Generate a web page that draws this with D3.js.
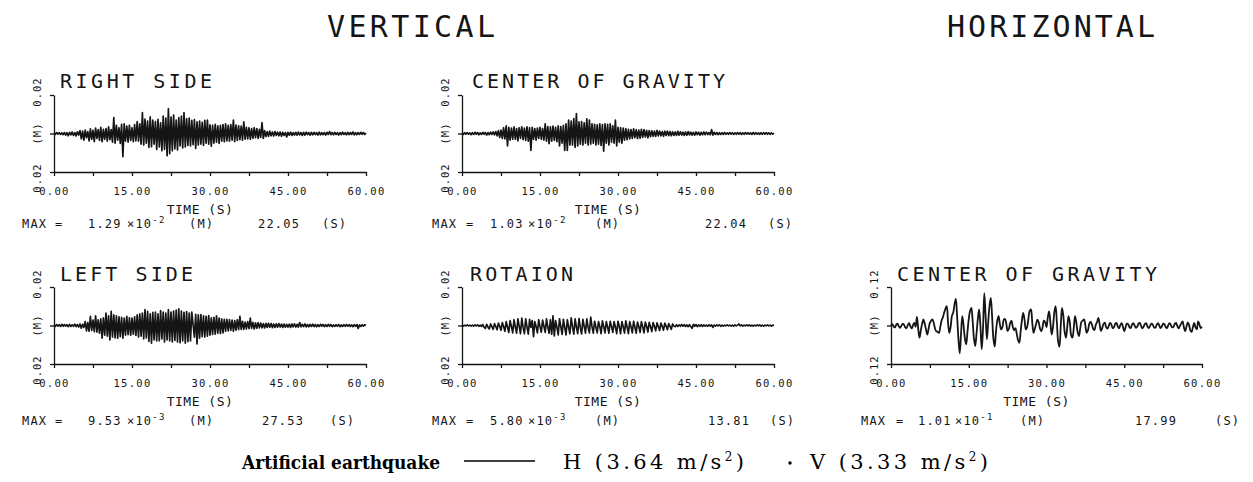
<!DOCTYPE html>
<html>
<head>
<meta charset="utf-8">
<script src="https://cdn.jsdelivr.net/npm/d3@7"></script>
<style>
  body { margin: 0; background: #fff; }
  svg { display: block; }
</style>
</head>
<body>
<svg id="chart" width="1253" height="482"></svg>
<script>
// Displacement time histories, sampled every 0.25 s from 0 to 60 s (values in mm).
const SAMPLE_DT = 0.25;

const rightSide = [
  0.3,-0.4,0.5,-0.3, 0.4,-0.5,0.3,-0.6, 0.5,-0.8,0.4,-1.2, 0.6,-0.7,0.8,-1.0, 0.5,-1.3,0.9,-0.8,
  1.5,-2.8,1.2,-3.5, 1.8,-2.2,1.0,-3.8, 2.4,-3.0,1.6,-4.2, 2.8,-2.5,2.0,-3.6, 3.2,-4.3,2.2,-3.0,
  2.6,-4.0,3.5,-3.2, 2.0,-4.5,8.3,-5.0, 4.2,-3.5,3.0,-5.2, 4.8,-12.0,5.0,-4.0, 3.8,-4.5,4.3,-3.6,
  3.0,-4.2,4.6,-3.8, 6.2,-4.0,5.0,-5.5, 10.8,-6.0,7.5,-5.0, 6.5,-7.2,8.6,-6.8, 7.0,-5.5,6.2,-8.3,
  7.4,-7.0,5.5,-9.0, 9.0,-8.2,8.0,-11.6, 12.9,-10.5,8.5,-9.0, 9.6,-8.0,7.0,-8.5, 8.2,-6.5,9.0,-7.5,
  10.8,-7.0,7.8,-6.2, 8.0,-6.5,6.8,-5.8, 7.2,-7.8,6.0,-6.0, 6.5,-5.5,5.8,-6.2, 6.8,-5.0,7.0,-5.5,
  4.5,-6.6,4.2,-5.0, 4.8,-4.5,4.0,-5.2, 4.2,-4.0,4.6,-4.3, 5.0,-3.8,4.2,-4.0, 4.6,-3.5,7.0,-4.2,
  4.4,-3.6,4.0,-3.2, 3.8,-3.5,6.0,-3.0, 3.2,-2.8,3.0,-3.0, 2.6,-2.5,3.0,-2.2, 2.5,-2.6,2.2,-2.0,
  5.6,-2.5,1.5,-1.6, 1.0,-1.5,1.2,-1.2, 0.8,-1.3,1.0,-1.0, 0.7,-1.2,0.8,-1.4, 0.6,-1.0,0.5,-1.8,
  0.6,-0.9,0.7,-1.0, 0.5,-0.8,0.6,-0.9, 0.7,-0.7,0.5,-1.0, 0.6,-0.8,0.7,-0.6, 0.5,-0.9,0.6,-0.7,
  0.6,-0.6,0.5,-0.8, 0.7,-0.7,0.4,-0.6, 0.5,-0.8,0.6,-0.5, 1.0,-0.6,0.5,-0.7, 0.6,-0.5,0.4,-0.8,
  0.5,-0.6,0.7,-0.5, 0.4,-0.7,0.6,-0.6, 0.5,-0.5,0.8,-0.7, 0.4,-0.6,0.5,-0.5, 0.6,-0.4,0.5,-0.5,
  0.2
];

const centerVertical = [
  0.3,-0.5,0.4,-0.3, 0.5,-0.4,0.3,-0.6, 0.4,-0.5,0.6,-0.4, 0.5,-0.7,0.3,-0.5, 0.6,-0.4,0.5,-0.8,
  0.4,-0.6,0.7,-0.5, 0.8,-0.7,1.0,-1.2, 1.5,-2.0,1.8,-2.5, 3.0,-2.8,4.0,-6.5, 3.2,-3.5,2.8,-3.0,
  3.5,-3.0,2.6,-3.8, 3.0,-2.5,3.4,-3.2, 2.8,-3.6,3.5,-4.0, 3.0,-8.8,3.2,-3.0, 2.5,-3.4,2.8,-2.6,
  3.2,-3.0,2.5,-3.5, 5.0,-4.0,3.6,-5.3, 3.5,-4.0,3.8,-3.6, 3.2,-4.2,4.0,-6.5, 3.6,-5.0,4.2,-8.8,
  5.0,-8.8,7.0,-6.0, 6.5,-6.0,7.8,-7.2, 10.3,-6.5,6.0,-5.5, 6.2,-6.0,5.5,-5.0, 7.6,-6.0,7.0,-5.5,
  5.0,-5.0,4.8,-6.0, 4.5,-5.5,5.0,-6.2, 4.6,-9.2,5.0,-5.0, 4.8,-6.0,5.0,-4.5, 4.0,-5.0,7.0,-6.5,
  3.2,-4.5,3.0,-5.0, 2.8,-3.5,2.6,-3.2, 2.2,-2.8,2.0,-2.5, 2.4,-2.2,2.0,-2.6, 1.8,-2.4,2.2,-2.0,
  2.0,-1.8,1.6,-2.2, 1.5,-1.6,1.4,-1.5, 1.2,-1.5,1.6,-1.2, 1.3,-1.2,1.0,-1.4, 1.2,-1.0,1.3,-1.1,
  1.0,-1.2,0.9,-1.0, 0.8,-1.0,1.1,-0.9, 0.9,-0.8,0.7,-1.0, 0.8,-0.9,1.0,-0.7, 0.7,-0.8,0.6,-0.9,
  0.8,-0.6,0.7,-0.8, 0.6,-0.7,0.8,-0.6, 0.7,-0.6,0.5,-0.7, 2.0,-0.8,0.6,-0.5, 0.5,-0.6,0.4,-0.5,
  0.4,-0.5,0.5,-0.4, 0.3,-0.4,0.5,-0.3, 0.4,-0.5,0.3,-0.4, 0.5,-0.3,0.4,-0.5, 0.3,-0.4,0.5,-0.3,
  0.4,-0.3,0.3,-0.5, 0.5,-0.4,0.4,-0.3, 0.3,-0.5,0.4,-0.4, 0.4,-0.3,0.5,-0.4, 0.3,-0.4,0.3,-0.3,
  0.2
];

const leftSide = [
  0.3,-0.4,0.5,-0.3, 0.4,-0.5,0.6,-0.4, 0.5,-0.3,0.4,-0.6, 0.6,-0.5,0.3,-0.4, 0.7,-0.6,0.5,-0.8,
  0.8,-1.4,0.6,-1.0, 2.0,-2.8,1.5,-3.0, 4.7,-2.5,2.8,-3.2, 5.0,-3.5,3.0,-4.0, 3.5,-6.6,4.0,-5.0,
  6.4,-5.5,5.0,-7.5, 7.3,-6.0,5.5,-6.5, 5.0,-6.6,4.5,-5.8, 4.2,-6.6,3.8,-5.0, 4.7,-4.8,4.0,-5.0,
  3.8,-4.5,4.5,-5.2, 5.5,-6.0,6.0,-5.5, 6.5,-7.0,8.2,-6.5, 7.3,-8.3,6.0,-9.2, 6.8,-7.5,7.0,-8.0,
  6.0,-8.0,7.8,-7.0, 7.0,-8.6,6.5,-7.5, 8.2,-8.0,7.0,-8.5, 7.5,-7.8,8.0,-8.6, 8.7,-9.0,7.5,-8.0,
  6.8,-9.2,7.2,-8.4, 6.5,-8.0,7.0,0.5, -6.0,5.8,-9.53,5.5, -6.6,5.6,-5.8,5.0, -6.0,4.8,-5.5,5.2,
  -5.0,4.0,-4.6,4.2, -4.5,5.0,-4.0,3.8, -4.2,3.5,-3.8,3.2, -3.0,3.2,-2.8,3.0, -2.6,2.8,-3.0,2.5,
  -2.4,3.0,-2.2,4.7, -2.0,2.2,-2.0,1.8, -1.8,2.0,-1.6,3.8, -1.5,1.6,-1.8,1.4, -1.4,1.5,-1.2,1.3,
  -1.2,1.0,-1.3,1.1, -1.0,1.2,-0.9,1.0, -1.1,0.8,-1.0,0.9, -0.9,1.0,-0.8,0.7, -1.0,0.8,-0.9,0.6,
  -0.8,0.7,-1.0,0.8, -0.7,0.9,-0.8,0.6, -0.8,1.5,-0.7,0.6, -0.6,0.8,-0.7,0.5, -0.7,0.6,-0.5,0.7,
  -0.6,0.5,-0.7,0.4, -0.5,0.6,-0.4,0.5, -0.6,0.4,-0.5,0.6, -0.4,0.5,-0.6,0.3, -0.5,0.4,-0.4,0.5,
  -0.6,0.3,-0.5,0.4, -0.4,0.5,-0.3,0.4, -0.5,0.3,-0.6,0.4, -0.4,0.5,-1.5,0.3, -0.5,0.4,-0.3,0.4,
  0.0
];

const rotation = [
  0.2,-0.3,0.1,-0.2, 0.3,-0.2,0.2,-0.3, 0.2,-0.3,0.3,-0.2, 0.3,-0.4,0.2,-0.5, 0.5,-1.0,-1.5,0.6,
  -0.8,-1.8,0.8,-0.6, -2.0,1.0,-0.5,-2.2, 1.2,-0.4,-2.5,1.5, -0.5,-3.0,2.0,-0.8, -3.6,2.5,-0.5,-3.8,
  3.0,-0.8,-4.0,3.5, -0.6,-4.3,3.8,-1.0, -4.2,3.5,-0.8,-4.5, 3.2,-1.0,2.5,-5.8, 2.0,-0.5,-3.8,3.0,
  -0.6,-3.5,2.8,-0.4, -3.6,3.5,-0.8,-4.0, 3.0,-4.5,5.0,-5.4, 2.5,-0.8,-4.9,3.5, -0.6,-4.6,3.2,-1.0,
  -4.9,3.0,-0.8,-4.3, 4.0,-0.6,-4.5,3.4, -0.8,-4.2,3.6,-1.0, -4.4,3.2,-0.5,-4.0, 3.5,-1.0,-3.8,4.3,
  -0.6,-4.0,2.2,-0.8, -3.8,2.0,-0.5,-4.2, 2.4,-0.6,-3.8,2.0, -0.8,-4.0,2.2,-0.6, -3.6,2.0,-0.8,-4.2,
  2.2,-0.5,-4.3,2.0, -0.6,-4.0,2.4,-0.8, -4.2,2.0,-0.6,-3.8, 2.2,-0.8,-4.0,1.8, -0.5,-3.6,2.0,-0.6,
  -3.8,1.8,-0.4,-3.4, 1.6,-0.6,-3.2,1.5, -0.4,-2.8,1.4,-0.5, -2.6,1.2,-0.4,-2.4, 1.2,-0.3,-2.2,1.0,
  -0.4,-2.0,0.8,-0.3, -0.6,0.4,-0.5,0.3, -0.4,0.5,-0.3,0.4, -0.5,0.3,-0.6,0.4, -0.5,-1.5,0.6,-0.4,
  0.5,-0.6,0.3,-0.4, 0.4,-0.5,0.3,-0.3, 0.2,-0.4,0.4,-0.3, 0.3,-1.0,0.2,-0.3, 0.3,-0.2,0.3,-0.4,
  0.2,-0.3,0.2,-0.2, 0.3,-0.2,0.2,-0.3, 0.2,-0.3,0.3,-0.2, 0.2,0.8,-0.2,0.3, -0.3,0.2,-0.2,0.3,
  -0.2,0.3,-0.3,0.2, -0.3,0.2,-0.2,0.3, -0.2,0.3,-0.3,0.2, -0.3,0.2,-0.2,0.3, -0.2,0.2,-0.3,0.2,
  0.0
];

const centerHorizontal = [
  0,4,-3,-6, 2,6,-2,-7, -1,5,3,-6, -8,2,7,-3, -9,1,8,-4,
  27,-10,-38,-15, 5,19,6,-12, -28,-10,8,15, 19,8,-10,-18, -20,-23,-5,15,
  25,40,52,60, 10,-23,-5,30, 40,65,83,30, -40,-87,-30,29, 0,-40,-59,-20,
  20,45,55,15, -40,-64,-25,20, 50,0,-74,-10, 101,30,-43,10, 60,86,30,-40,
  -66,-20,15,29, 5,-12,-5,18, 20,5,-17,-10, 8,14,-5,-15, -8,-25,-45,-54,
  -20,15,39,20, -12,-5,20,45, 50,10,-23,-10, 5,18,10,-10, -18,-5,15,10,
  -5,25,44,10, -28,-5,40,60, 10,-50,-66,0, 55,30,-20,-38, -5,29,10,-30,
  -38,-10,29,10, -20,-33,-10,12, 15,19,0,-23, -15,5,12,4, -10,-14,2,10,
  24,5,-17,-8, 5,9,-5,-10, -2,8,4,-8, -6,5,8,-3, -9,2,7,-4,
  -18,-6,6,4, -5,-8,3,7, 0,-7,-4,6, 8,-2,-9,-3, 5,7,-4,-8,
  -1,6,3,-6, -7,2,7,0, -8,-3,6,4, -5,-8,2,7, 1,-6,-4,5,
  8,-2,-9,-1, 6,13,-5,-18, -4,10,2,-15, -20,-5,8,-6, -12,13,4,-8,
  -4
];

// Panel texts and axis settings
const panelTitles = ["RIGHT SIDE", "CENTER OF GRAVITY", "LEFT SIDE", "ROTAION", "CENTER OF GRAVITY"];
const yLimits = [0.02, 0.02, 0.02, 0.02, 0.12];            // metres
const yLimitLabels = ["0.02", "0.02", "0.02", "0.02", "0.12"];
const timeTicks = [0, 7.5, 15, 22.5, 30, 37.5, 45, 52.5, 60];
const timeTickLabels = ["0.00", "", "15.00", "", "30.00", "", "45.00", "", "60.00"];
const maxMantissas = ["1.29", "1.03", "9.53", "5.80", "1.01"];
const maxExponents = ["-2", "-2", "-3", "-3", "-1"];
const maxTimes = ["22.05", "22.04", "27.53", "13.81", "17.99"];

// Layout of the five plotted panels
const layout = [
  { data: rightSide,        x0: 54,  x1: 366,  yTop: 95,  yBot: 172, titleX: 60,  titleY: 88,  maxY: 228, maxX: [22, 55, 88, 127, 189, 258, 322], smooth: false },
  { data: centerVertical,   x0: 462, x1: 774,  yTop: 95,  yBot: 172, titleX: 472, titleY: 88,  maxY: 228, maxX: [432, 466, 490, 528, 595, 705, 768], smooth: false },
  { data: leftSide,         x0: 54,  x1: 366,  yTop: 287, yBot: 364, titleX: 60,  titleY: 281, maxY: 425, maxX: [22, 55, 88, 127, 189, 262, 330], smooth: false },
  { data: rotation,         x0: 462, x1: 774,  yTop: 287, yBot: 364, titleX: 470, titleY: 281, maxY: 425, maxX: [432, 466, 490, 528, 595, 708, 770], smooth: false },
  { data: centerHorizontal, x0: 891, x1: 1202, yTop: 287, yBot: 364, titleX: 897, titleY: 281, maxY: 425, maxX: [861, 896, 918, 955, 1020, 1135, 1215], smooth: true }
];
const titleWidths = [152, 253, 133, 103, 260];

const PLOT_FONT = "'DejaVu Sans Mono', monospace";
const INK = "#151515";

const svg = d3.select("#chart");

// Section headings
svg.append("text").attr("x", 327).attr("y", 37)
  .attr("textLength", 168).attr("lengthAdjust", "spacing")
  .style("font-family", PLOT_FONT).style("font-size", "30px").attr("fill", INK)
  .text("VERTICAL");
svg.append("text").attr("x", 947).attr("y", 37)
  .attr("textLength", 208).attr("lengthAdjust", "spacing")
  .style("font-family", PLOT_FONT).style("font-size", "30px").attr("fill", INK)
  .text("HORIZONTAL");

layout.forEach((p, i) => {
  const g = svg.append("g");
  const lim = yLimits[i] * 1000;   // mm
  const x = d3.scaleLinear().domain([0, 60]).range([p.x0, p.x1]);
  const y = d3.scaleLinear().domain([-lim, lim]).range([p.yBot, p.yTop]);

  // trace
  const line = d3.line()
    .x((d, k) => x(k * SAMPLE_DT))
    .y(d => y(d))
    .curve(p.smooth ? d3.curveCatmullRom.alpha(0.5) : d3.curveLinear);
  g.append("path").datum(p.data)
    .attr("d", line)
    .attr("fill", "none")
    .attr("stroke", INK)
    .attr("stroke-width", p.smooth ? 1.8 : 1.7)
    .attr("stroke-linejoin", "round");

  // time axis
  const xAxis = d3.axisBottom(x)
    .tickValues(timeTicks)
    .tickSize(4)
    .tickSizeOuter(0)
    .tickPadding(12)
    .tickFormat((d, k) => timeTickLabels[k]);
  const gx = g.append("g").attr("transform", `translate(0,${p.yBot})`).call(xAxis);
  gx.select(".domain").attr("stroke", INK).attr("stroke-width", 1.3);
  gx.selectAll(".tick line").attr("stroke", INK).attr("stroke-width", 1.3);
  gx.selectAll(".tick text")
    .attr("fill", INK)
    .style("font-family", PLOT_FONT)
    .style("font-size", "10.5px")
    .style("letter-spacing", "1.3px");

  // displacement axis
  const yAxis = d3.axisLeft(y)
    .tickValues([-lim, 0, lim])
    .tickSize(4)
    .tickSizeOuter(0)
    .tickFormat("");
  const gy = g.append("g").attr("transform", `translate(${p.x0},0)`).call(yAxis);
  gy.select(".domain").attr("stroke", INK).attr("stroke-width", 1.3);
  gy.selectAll(".tick line").attr("stroke", INK).attr("stroke-width", 1.3);

  const yLab = (cx, cy, txt) => g.append("text")
    .attr("transform", `translate(${cx},${cy}) rotate(-90)`)
    .attr("text-anchor", "middle")
    .attr("dy", "0.36em")
    .attr("fill", INK)
    .style("font-family", PLOT_FONT)
    .style("font-size", "10.5px")
    .style("letter-spacing", "1px")
    .text(txt);
  yLab(p.x0 - 17, y(lim) - 3, yLimitLabels[i]);
  yLab(p.x0 - 17, y(0), "(M)");
  yLab(p.x0 - 17, y(-lim) + 6, yLimitLabels[i]);

  // axis title
  g.append("text")
    .attr("x", (p.x0 + p.x1) / 2 - 10)
    .attr("y", p.yBot + 42)
    .attr("text-anchor", "middle")
    .attr("fill", INK)
    .style("font-family", PLOT_FONT)
    .style("font-size", "13px")
    .style("letter-spacing", "0.5px")
    .text("TIME (S)");

  // panel title
  g.append("text")
    .attr("x", p.titleX)
    .attr("y", p.titleY)
    .attr("textLength", titleWidths[i])
    .attr("lengthAdjust", "spacing")
    .attr("fill", INK)
    .style("font-family", PLOT_FONT)
    .style("font-size", "20px")
    .text(panelTitles[i]);

  // peak value line
  const mx = p.maxX;
  const maxText = (xx) => g.append("text")
    .attr("x", xx).attr("y", p.maxY)
    .attr("fill", INK)
    .style("font-family", PLOT_FONT)
    .style("font-size", "12px")
    .style("letter-spacing", "1.2px");
  maxText(mx[0]).text("MAX");
  maxText(mx[1]).text("=");
  maxText(mx[2]).text(maxMantissas[i]);
  const pow = maxText(mx[3]);
  pow.append("tspan").text("\u00d710");
  pow.append("tspan").attr("dy", -5).style("font-size", "9px").text(maxExponents[i]);
  maxText(mx[4]).text("(M)");
  maxText(mx[5]).text(maxTimes[i]);
  maxText(mx[6]).text("(S)");
});

// Legend
const legendY = 469;
const legendFont = "'DejaVu Serif', serif";
svg.append("text").attr("x", 242).attr("y", legendY)
  .attr("textLength", 198).attr("lengthAdjust", "spacingAndGlyphs")
  .style("font-family", legendFont).style("font-size", "19px").style("font-weight", "bold")
  .attr("fill", "#000").text("Artificial earthquake");
svg.append("line").attr("x1", 464).attr("x2", 535).attr("y1", 461).attr("y2", 461)
  .attr("stroke", "#000").attr("stroke-width", 1.5);
const legendItem = (x, label, unitExp) => {
  const t = svg.append("text").attr("x", x).attr("y", legendY)
    .style("font-family", legendFont).style("font-size", "21px")
    .style("letter-spacing", "3.4px")
    .attr("fill", "#000");
  t.append("tspan").text(label);
  t.append("tspan").attr("dy", -8).style("font-size", "12px").text(unitExp);
  t.append("tspan").attr("dy", 8).text(")");
};
legendItem(563, "H (3.64 m/s", "2");
svg.append("circle").attr("cx", 790).attr("cy", 463).attr("r", 1.7).attr("fill", "#000");
legendItem(810, "V (3.33 m/s", "2");
</script>
</body>
</html>
